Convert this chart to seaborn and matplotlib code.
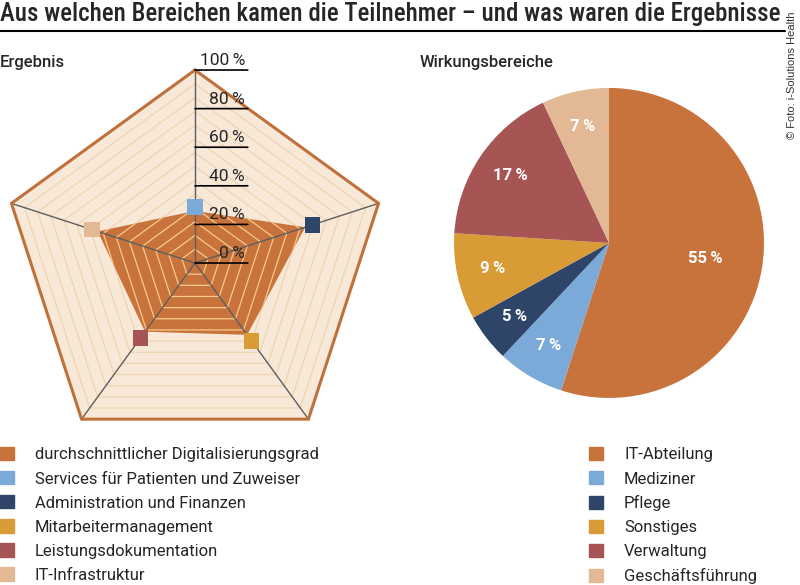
import numpy as np
import matplotlib
matplotlib.use("Agg")
import matplotlib.pyplot as plt
from matplotlib import font_manager
from matplotlib.patches import Patch
from matplotlib.lines import Line2D
import seaborn as sns

# Radar: Ergebnis (percent)
radar_cats = ['Services für Patienten und Zuweiser', 'Administration und Finanzen',
              'Mitarbeitermanagement', 'Leistungsdokumentation', 'IT-Infrastruktur']
avg_grad = [27, 60, 46, 44, 53]      # orange area
cat_scores = [29, 64, 50, 48, 56]    # square markers
radar_ticks = [0, 20, 40, 60, 80, 100]

# Pie: Wirkungsbereiche (percent)
pie_labels = ['IT-Abteilung', 'Mediziner', 'Pflege', 'Sonstiges', 'Verwaltung', 'Geschäftsführung']
pie_values = [55, 7, 5, 9, 17, 7]

orange = '#C8723C'
radar_colors = ['#7BAAD8', '#2E4469', '#D99B35', '#A65454', '#E3B894']
pie_colors = [orange] + radar_colors

sns.set_style('white')
avail = {f.name for f in font_manager.fontManager.ttflist}
narrow = next((f for f in ['Roboto Condensed', 'Liberation Sans Narrow'] if f in avail), 'DejaVu Sans')
plt.rcParams['font.family'] = ['Roboto', 'DejaVu Sans']

fig = plt.figure(figsize=(8, 5.85), dpi=100)

# ---- radar chart
ax = fig.add_axes([0.0025, 0.2205, 0.4825, 0.6598], projection='polar')
ax.set_theta_offset(np.pi / 2)
ax.set_theta_direction(-1)
ax.set_ylim(0, 100)
ax.axis('off')

angles = np.linspace(0, 2 * np.pi, len(radar_cats), endpoint=False)
closed = np.append(angles, angles[0])
rings = np.linspace(0, 100, 15)[1:-1]

ax.fill(closed, [100] * 6, color='#F8E8D7', lw=0, zorder=0, clip_on=False)
for r in rings:
    ax.plot(closed, [r] * 6, color='#EDD3AE', lw=0.8, zorder=1)

poly = ax.fill(closed, avg_grad + avg_grad[:1], color=orange, lw=0, zorder=2)[0]
for r in rings:
    ln, = ax.plot(closed, [r] * 6, color='#F7CB8A', lw=0.9, zorder=3)
    ln.set_clip_path(poly)

for a in angles:
    ax.plot([a, a], [0, 100], color='#5E5E5E', lw=1, zorder=4, clip_on=False)
ax.plot(closed, [100] * 6, color='#C0703A', lw=2.2, zorder=5, clip_on=False,
        solid_joinstyle='miter')

sns.scatterplot(x=angles, y=cat_scores, hue=radar_cats, palette=radar_colors,
                marker='s', s=125, linewidth=0, legend=False, ax=ax, zorder=6)

for t in radar_ticks:
    ax.annotate('', xy=(0, t), xytext=(38, 0), textcoords='offset points',
                arrowprops=dict(arrowstyle='-', color='black', lw=1.2,
                                shrinkA=0, shrinkB=0), zorder=7, annotation_clip=False)
    ax.annotate(f'{t}\u2009%', xy=(0, t), xytext=(36, 1.5), textcoords='offset points',
                ha='right', va='bottom', fontsize=12.5, zorder=7, annotation_clip=False)

# ---- pie chart
ax2 = fig.add_axes([0.5675, 0.3197, 0.3875, 0.53])
wedges, texts, autotexts = ax2.pie(
    pie_values, colors=pie_colors, startangle=90, counterclock=False,
    autopct=lambda p: f'{p:.0f}\u2009%', pctdistance=0.77,
    textprops=dict(color='white', fontsize=12, fontweight='bold'),
    wedgeprops=dict(linewidth=0))
x0, y0 = autotexts[0].get_position()
autotexts[0].set_position((x0 * 0.63 / 0.77, y0 * 0.63 / 0.77))
ax2.set_xlim(-1, 1)
ax2.set_ylim(-1, 1)

# ---- texts
fig.text(0, 1 - 14 / 585, 'Aus welchen Bereichen kamen die Teilnehmer – und was waren die Ergebnisse',
         ha='left', va='center', fontsize=17.9, fontweight='medium', family=[narrow, 'DejaVu Sans'])
fig.add_artist(Line2D([0, 785 / 800], [1 - 31 / 585] * 2, color='black', lw=1.5))
fig.text(792 / 800, 1 - 75 / 585, '© Foto: i-Solutions Health', rotation=90,
         ha='center', va='center', fontsize=8, color='#333333', family='Liberation Sans')
fig.text(0, 1 - 62 / 585, 'Ergebnis', ha='left', va='center', fontsize=12, fontweight='medium')
fig.text(420 / 800, 1 - 62 / 585, 'Wirkungsbereiche', ha='left', va='center',
         fontsize=12, fontweight='medium')

# ---- legends
left_labels = ['durchschnittlicher Digitalisierungsgrad'] + radar_cats
left_handles = [Patch(facecolor=c, edgecolor=c) for c in [orange] + radar_colors]
leg_kw = dict(loc='upper left', frameon=False, handlelength=0.85, handleheight=0.85,
              handletextpad=1.25, labelspacing=0.52, borderpad=0, borderaxespad=0, fontsize=12)
fig.legend(left_handles, left_labels, bbox_to_anchor=(0, 1 - 447 / 585), **leg_kw)
right_handles = [Patch(facecolor=c, edgecolor=c) for c in pie_colors]
fig.legend(right_handles, pie_labels, bbox_to_anchor=(589 / 800, 1 - 447 / 585), **leg_kw)

fig.savefig('out.png', dpi=100)
